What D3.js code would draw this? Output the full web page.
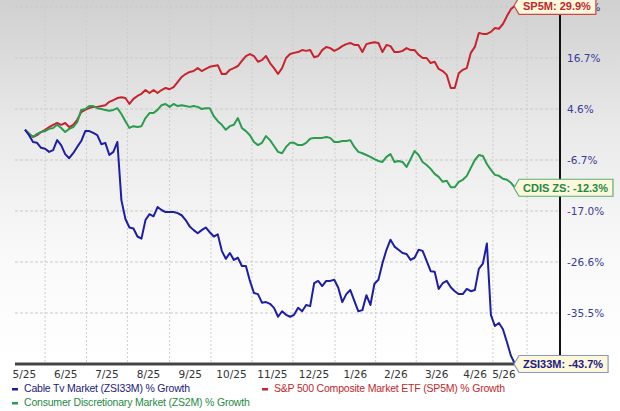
<!DOCTYPE html>
<html>
<head>
<meta charset="utf-8">
<script src="https://cdn.jsdelivr.net/npm/d3@7"></script>
<style>
  body { margin: 0; background: #fff; }
  svg { display: block; }
</style>
</head>
<body>
<script>
// % growth, one value every 3 days (5/17/25 .. 5/18/26)
let sp5m = [0.0, -0.9, -1.6, -1.2, -0.5, 0.0, 0.6, 1.1, 1.5, 1.1,
    1.5, 0.6, 1.1, 2.2, 3.9, 4.4, 4.8, 5.1, 5.1, 5.3,
    5.5, 6.3, 6.7, 7.2, 7.4, 7.2, 5.8, 7.0, 7.7, 8.2,
    9.1, 8.4, 9.1, 8.4, 9.1, 9.6, 9.3, 9.8, 11.0, 12.2,
    12.9, 13.4, 13.6, 14.3, 13.6, 14.1, 14.6, 14.8, 15.0, 12.9,
    12.9, 13.9, 14.3, 14.8, 16.0, 17.2, 17.7, 17.2, 15.8, 16.2,
    17.2, 15.5, 14.3, 12.9, 14.3, 16.7, 17.7, 18.0, 18.2, 18.7,
    18.5, 18.7, 16.9, 17.2, 18.7, 19.5, 19.2, 18.5, 19.0, 19.7,
    20.2, 20.5, 20.0, 20.0, 18.2, 20.2, 20.5, 20.7, 20.5, 18.2,
    20.0, 19.7, 18.2, 18.2, 18.5, 19.2, 18.7, 18.7, 17.5, 16.7,
    16.7, 15.5, 15.8, 14.1, 13.6, 12.7, 9.6, 9.6, 13.1, 13.9,
    14.3, 18.0, 19.5, 23.0, 22.8, 22.8, 23.3, 24.3, 24.1, 25.3,
    27.3, 29.1, 29.9];

let zs2m = [0.0, -0.9, -1.6, -0.9, -0.5, -0.3, 0.2, 0.4, 1.1, 0.4,
    -0.5, 0.2, 0.6, 1.7, 4.4, 4.6, 5.3, 5.3, 4.8, 4.6,
    4.4, 4.2, 4.4, 4.8, 3.5, 1.9, 0.4, 0.8, 0.6, 0.8,
    2.6, 3.7, 3.7, 4.4, 5.5, 5.8, 5.1, 5.8, 5.3, 5.5,
    5.3, 5.1, 5.3, 5.1, 4.6, 4.8, 4.8, 3.0, 1.9, 1.1,
    0.0, 0.8, 1.1, 2.6, 0.4, -0.3, -1.2, -2.7, -3.4, -2.9,
    -1.4, -2.3, -3.6, -4.9, -5.2, -3.8, -2.9, -2.9, -3.4, -3.4,
    -2.9, -2.0, -1.8, -1.8, -1.8, -1.6, -1.8, -2.7, -2.7, -2.5,
    -2.5, -2.3, -3.8, -4.9, -5.2, -5.6, -6.0, -6.5, -6.9, -7.1,
    -6.0, -5.4, -7.1, -6.9, -7.1, -8.1, -6.5, -4.7, -5.6, -7.1,
    -7.7, -8.5, -9.5, -10.1, -11.1, -10.9, -12.2, -12.2, -11.1, -10.7,
    -9.9, -8.3, -6.7, -5.6, -5.8, -7.5, -8.7, -9.7, -9.9, -10.5,
    -10.7, -11.3, -12.3];

let zsi33m = [0.0, -1.2, -2.7, -2.9, -4.0, -4.2, -4.9, -4.5, -2.3, -3.4,
    -5.4, -6.3, -5.2, -3.8, -2.5, -0.3, -0.3, -0.7, -1.2, -3.2,
    -2.9, -5.6, -4.9, -2.7, -14.8, -18.5, -20.1, -20.3, -21.8, -22.2,
    -18.7, -17.6, -18.0, -16.2, -16.8, -17.2, -17.2, -17.2, -17.4, -17.8,
    -18.7, -19.9, -20.6, -21.2, -20.6, -20.1, -21.0, -21.8, -21.4, -24.5,
    -26.0, -24.9, -26.2, -25.8, -27.3, -27.3, -29.9, -32.0, -32.2, -33.7,
    -33.6, -33.9, -34.6, -36.1, -35.2, -35.8, -36.1, -35.8, -34.6, -35.2,
    -34.1, -34.3, -30.3, -29.9, -30.8, -29.9, -29.9, -29.7, -31.1, -33.6,
    -32.2, -31.5, -33.4, -35.2, -35.0, -32.4, -34.1, -30.4, -29.7, -26.8,
    -24.3, -22.4, -23.7, -24.3, -24.9, -25.1, -26.2, -25.8, -24.3, -24.5,
    -26.4, -28.2, -28.3, -31.3, -30.3, -29.9, -31.0, -31.7, -32.2, -32.2,
    -31.3, -31.7, -31.5, -27.8, -26.9, -23.1, -35.8, -37.6, -37.1, -38.1,
    -40.2, -42.4, -43.7];

let yTicks = [29.6, 16.7, 4.6, -6.7, -17.0, -26.6, -35.5, -43.7];

let monthLabels = ["5/25", "6/25", "7/25", "8/25", "9/25", "10/25", "11/25",
    "12/25", "1/26", "2/26", "3/26", "4/26", "5/26"];
// month starts, in sample units (5/1/25 .. 6/1/26)
let monthStarts = [-5.3, 5.0, 15.3, 25.5, 36.0, 46.3, 56.5, 66.7, 77.2,
    87.3, 97.4, 107.6, 116.5, 125.0];

let series = [
    {tag: "SP5M", values: sp5m, color: "#c8232c", text: "#c0282e", border: "#c94a4a",
        legend: "S&P 500 Composite Market ETF (SP5M) % Growth"},
    {tag: "CDIS ZS", values: zs2m, color: "#2a9c4e", text: "#1f8a43", border: "#5aae72",
        legend: "Consumer Discretionary Market (ZS2M) % Growth"},
    {tag: "ZSI33M", values: zsi33m, color: "#1d1ea3", text: "#1d2080", border: "#8a98c8",
        legend: "Cable Tv Market (ZSI33M) % Growth"}
];

let width = 620, height = 411;
let plotLeft = 15, plotRight = 560, plotBottom = 364;

let n = sp5m.length;

let x = d3.scaleLinear()
    .domain([0, n - 1])
    .range([25, 515]);

let y = d3.scaleLinear()
    .domain(yTicks)
    .range(yTicks.map(function (d, i) { return 7 + i * 51; }));

let svg = d3.select("body").append("svg")
    .attr("width", width)
    .attr("height", height)
    .style("font-family", "'DejaVu Sans', Verdana, sans-serif");

let defs = svg.append("defs");
let grad = defs.append("linearGradient")
    .attr("id", "bg")
    .attr("x1", 0).attr("y1", 0).attr("x2", 0).attr("y2", 1);
grad.append("stop").attr("offset", "0%").attr("stop-color", "#d0d0d0");
grad.append("stop").attr("offset", "35%").attr("stop-color", "#e9e9e9");
grad.append("stop").attr("offset", "70%").attr("stop-color", "#f9f9f9");
grad.append("stop").attr("offset", "100%").attr("stop-color", "#ffffff");

svg.append("rect")
    .attr("x", 0).attr("y", 0)
    .attr("width", width).attr("height", plotBottom)
    .attr("fill", "url(#bg)");

// grid
svg.append("g").selectAll("line")
    .data(yTicks)
    .enter().append("line")
    .attr("x1", plotLeft).attr("x2", plotRight)
    .attr("y1", function (d) { return y(d); })
    .attr("y2", function (d) { return y(d); })
    .attr("stroke", "#c9c9c9")
    .attr("stroke-width", 1)
    .attr("stroke-dasharray", "3,2");

svg.append("g").selectAll("line")
    .data(monthStarts.slice(1))
    .enter().append("line")
    .attr("x1", function (d) { return x(d); })
    .attr("x2", function (d) { return x(d); })
    .attr("y1", 0).attr("y2", plotBottom)
    .attr("stroke", "#cdcdcd")
    .attr("stroke-width", 1)
    .attr("stroke-dasharray", "2,2");

// axes
svg.append("line")
    .attr("x1", plotRight).attr("x2", plotRight)
    .attr("y1", 0).attr("y2", plotBottom)
    .attr("stroke", "#111")
    .attr("stroke-width", 2);

svg.append("line")
    .attr("x1", plotLeft).attr("x2", plotRight)
    .attr("y1", plotBottom).attr("y2", plotBottom)
    .attr("stroke", "#444")
    .attr("stroke-width", 3);

// the bottom tick sits under the last tag, so it is not labelled
svg.append("g").selectAll("text")
    .data(yTicks.slice(0, -1))
    .enter().append("text")
    .attr("x", plotRight + 7)
    .attr("y", function (d) { return y(d); })
    .attr("dy", "0.35em")
    .attr("font-size", "10.5px")
    .attr("fill", "#3a3a9a")
    .text(function (d) { return d.toFixed(1) + "%"; });

svg.append("g").selectAll("text")
    .data(monthLabels)
    .enter().append("text")
    .attr("x", function (d, i) {
        let a = monthStarts[i], b = Math.min(monthStarts[i + 1], n - 1);
        return x((a + b) / 2);
    })
    .attr("y", 378)
    .attr("text-anchor", "middle")
    .attr("font-size", "10.5px")
    .attr("fill", "#333")
    .text(function (d) { return d; });

// lines
let line = d3.line()
    .x(function (d, i) { return x(i); })
    .y(function (d) { return y(d); });

svg.append("g").selectAll("path")
    .data(series)
    .enter().append("path")
    .attr("d", function (s) { return line(s.values); })
    .attr("fill", "none")
    .attr("stroke", function (s) { return s.color; })
    .attr("stroke-width", 2)
    .attr("stroke-linejoin", "round");

// end tags
let tags = svg.append("g").selectAll("g")
    .data(series)
    .enter().append("g")
    .attr("transform", function (s) {
        let last = s.values[s.values.length - 1];
        return "translate(" + (x(n - 1) - 1) + "," + y(last) + ")";
    });

tags.append("text")
    .attr("x", 9)
    .attr("dy", "0.36em")
    .attr("font-family", "'Liberation Sans', Arial, sans-serif")
    .attr("font-size", "11px")
    .attr("font-weight", "bold")
    .attr("fill", function (s) { return s.text; })
    .text(function (s) { return s.tag + ": " + s.values[s.values.length - 1].toFixed(1) + "%"; });

tags.each(function (s) {
    let g = d3.select(this);
    let w = g.select("text").node().getComputedTextLength() + 14;
    let h = 17;
    g.insert("path", "text")
        .attr("d", "M0,0 L5," + (-h / 2) + " H" + w + " V" + (h / 2) + " H5 Z")
        .attr("fill", "#fdf7dc")
        .attr("stroke", s.border)
        .attr("stroke-width", 1.2);
});

// legend
let legendItems = [
    {s: series[2], x: 10, y: 392},
    {s: series[0], x: 260, y: 392},
    {s: series[1], x: 10, y: 406}
];

let legend = svg.append("g").selectAll("g")
    .data(legendItems)
    .enter().append("g")
    .attr("transform", function (d) { return "translate(" + d.x + "," + d.y + ")"; });

legend.append("rect")
    .attr("x", 2).attr("y", -4)
    .attr("width", 6).attr("height", 2.5)
    .attr("fill", function (d) { return d.s.color; });

legend.append("text")
    .attr("x", 14)
    .attr("font-family", "'Liberation Sans', Arial, sans-serif")
    .attr("font-size", "10.5px")
    .attr("letter-spacing", "-0.2px")
    .attr("fill", function (d) { return d.s.text; })
    .text(function (d) { return d.s.legend; });
</script>
</body>
</html>
